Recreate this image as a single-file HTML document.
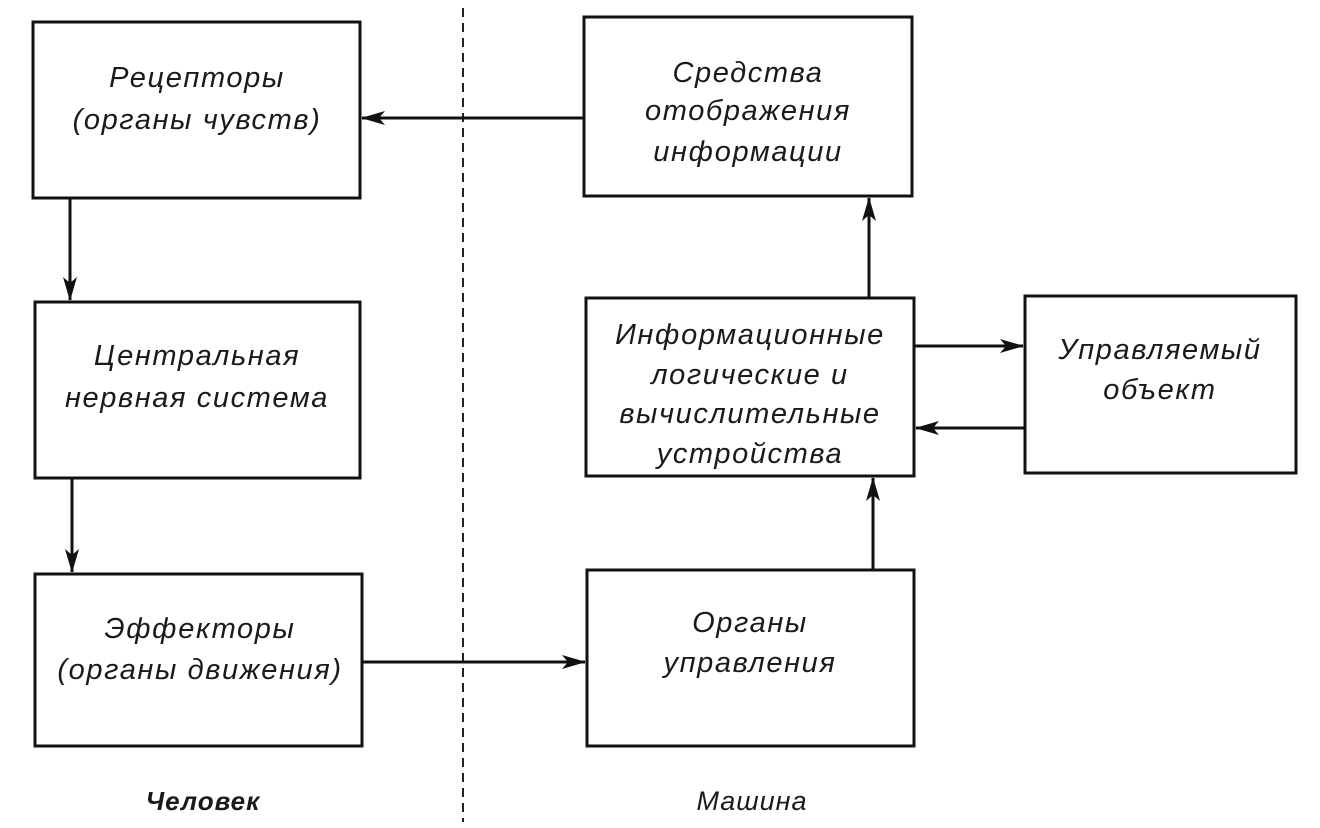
<!DOCTYPE html>
<html><head><meta charset="utf-8"><style>
html,body{margin:0;padding:0;background:#fff;}
svg{display:block}
text{font-family:"Liberation Sans","DejaVu Sans",sans-serif;font-style:italic;font-size:29px;letter-spacing:1.6px;fill:#1a1a1a;text-anchor:middle}
</style></head><body>
<svg width="1320" height="828" viewBox="0 0 1320 828" xmlns="http://www.w3.org/2000/svg">
<defs><marker id="a" markerWidth="24" markerHeight="14" refX="23" refY="7" orient="auto" markerUnits="userSpaceOnUse"><path d="M0,0 L24,7 L0,14 L6,7 Z" fill="#111"/></marker></defs>
<g fill="none" stroke="#111" stroke-width="3">
<rect x="33" y="22" width="327" height="176"/>
<rect x="35" y="302" width="325" height="176"/>
<rect x="35" y="574" width="327" height="172"/>
<rect x="584" y="17" width="328" height="179"/>
<rect x="586" y="298" width="328" height="178"/>
<rect x="1025" y="296" width="271" height="177"/>
<rect x="587" y="570" width="327" height="176"/>
</g>
<line x1="463" y1="8" x2="463" y2="822" stroke="#222" stroke-width="2" stroke-dasharray="9,6"/>
<g stroke="#111" stroke-width="3" marker-end="url(#a)">
<line x1="584" y1="118" x2="362" y2="118"/>
<line x1="70" y1="198" x2="70" y2="300"/>
<line x1="72" y1="478" x2="72" y2="572"/>
<line x1="362" y1="662" x2="585" y2="662"/>
<line x1="873" y1="570" x2="873" y2="478"/>
<line x1="869" y1="298" x2="869" y2="198"/>
<line x1="914" y1="346" x2="1023" y2="346"/>
<line x1="1025" y1="428" x2="916" y2="428"/>
</g>
<text x="197" y="87">Рецепторы</text>
<text x="197" y="129">(органы чувств)</text>
<text x="197" y="365">Центральная</text>
<text x="197" y="407">нервная система</text>
<text x="200" y="638">Эффекторы</text>
<text x="200" y="679">(органы движения)</text>
<text x="748" y="82">Средства</text>
<text x="748" y="120">отображения</text>
<text x="748" y="161">информации</text>
<text x="750" y="344">Информационные</text>
<text x="750" y="384">логические и</text>
<text x="750" y="423">вычислительные</text>
<text x="750" y="463">устройства</text>
<text x="1160" y="359">Управляемый</text>
<text x="1160" y="399">объект</text>
<text x="750" y="632">Органы</text>
<text x="750" y="672">управления</text>
<text x="203" y="810" style="font-weight:bold;font-size:26px;letter-spacing:1px">Человек</text>
<text x="752" y="810" style="font-size:27px;letter-spacing:1px">Машина</text>
</svg>
</body></html>
